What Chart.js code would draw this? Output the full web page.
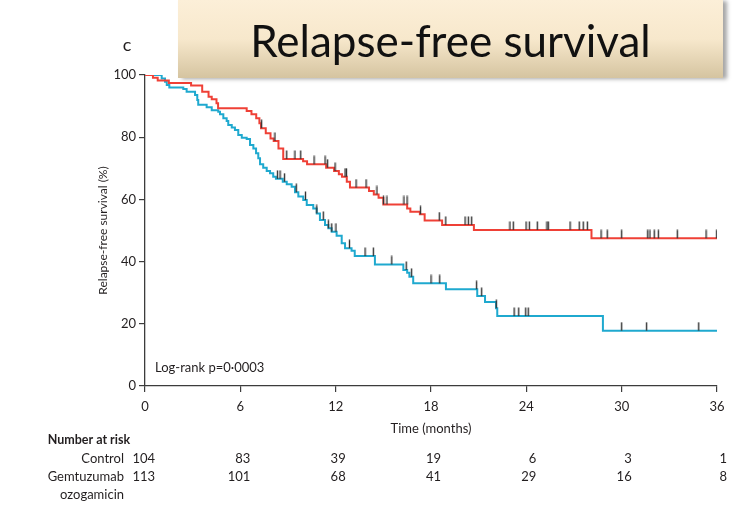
<!DOCTYPE html>
<html>
<head>
<meta charset="utf-8">
<script src="https://cdn.jsdelivr.net/npm/chart.js@4.4.0/dist/chart.umd.min.js"></script>
<style>
  html, body { margin: 0; padding: 0; background: #fff; }
  #wrap { position: relative; width: 742px; height: 508px; overflow: hidden; }
  #chart { position: absolute; left: 0; top: 0; }
  .banner {
    position: absolute; left: 178px; top: 0; width: 545px; height: 78px;
    background: linear-gradient(to bottom, #fcefd8 0%, #f7e8cc 50%, #d5c4a0 100%);
    box-shadow: 4px 1px 4px rgba(0, 0, 0, 0.35);
    font-family: Lato, sans-serif; font-size: 44px; color: #111;
    text-align: center; line-height: 80px;
  }
</style>
</head>
<body>
<div id="wrap">
  <canvas id="chart" width="742" height="508"></canvas>
  <div class="banner">Relapse-free survival</div>
</div>
<script>
// --- Data ---
const monthTicks = [0, 6, 12, 18, 24, 30, 36];

// Kaplan-Meier steps: time of each drop (months) and survival (%) after it
const gemtuzumabTimes = [0, 0.5, 0.8, 1.5, 2.9, 3.6, 4.0, 4.2, 4.5, 4.6, 6.4, 6.7, 7.0, 7.2, 7.3, 7.6, 7.9, 8.1, 8.4, 8.7,
  9.95, 10.2, 11.4, 11.9, 12.2, 12.4, 12.7, 12.9, 14.1, 14.4, 14.7, 15.0, 16.5, 16.7, 17.3, 17.6, 18.7, 20.7, 28.1, 36];
const gemtuzumabSurvival = [100, 99.1, 98.2, 97.4, 96.6, 94.6, 93.0, 92.2, 90.9, 89.3, 88.4, 87.4, 86.1, 84.5, 82.9, 81.3, 79.6, 78.8, 76.4, 73.0,
  72.3, 71.3, 70.2, 69.1, 68.1, 67.3, 65.7, 63.8, 62.7, 61.6, 60.5, 58.4, 57.1, 56.0, 55.2, 53.2, 51.8, 50.2, 47.5, 47.5];

const controlTimes = [0, 1.05, 1.26, 1.37, 1.53, 2.41, 2.62, 3.15, 3.29, 3.35, 3.88, 4.2, 4.61, 4.72, 4.93, 5.14, 5.24, 5.46, 5.66, 5.87,
  6.09, 6.4, 6.61, 6.82, 6.99, 7.13, 7.24, 7.44, 7.66, 7.87, 8.07, 8.24, 8.67, 8.92, 9.23, 9.44, 9.65, 9.96, 10.18, 10.59,
  10.81, 11.01, 11.33, 11.54, 11.75, 12.06, 12.38, 12.59, 13.0, 13.2, 14.47, 16.26, 16.5, 16.64, 16.88, 18.94, 20.91, 21.4, 22.09, 22.17,
  28.82, 36];
const controlSurvival = [100, 98.9, 97.8, 96.8, 96.0, 95.5, 94.6, 93.6, 92.0, 90.4, 89.6, 88.7, 88.2, 87.4, 86.1, 85.2, 83.9, 83.1, 82.3, 80.7,
  79.8, 79.4, 77.5, 76.4, 74.8, 73.2, 71.3, 70.2, 69.1, 68.4, 67.3, 66.6, 65.7, 64.9, 64.1, 62.3, 60.9, 59.8, 58.2, 57.1,
  55.5, 53.4, 51.8, 50.7, 49.6, 48.3, 45.9, 44.3, 43.5, 41.8, 39.1, 37.3, 36.4, 35.1, 33.0, 31.1, 28.9, 27.0, 25.0, 22.5,
  17.8, 17.8];

// Censoring times (months)
const gemtuzumabCensored = [7.34, 8.18, 8.92, 9.44, 9.8, 10.64, 11.33, 11.49, 11.96, 12.59, 12.68, 13.28, 13.91, 14.6, 15.01, 15.23,
  16.3, 16.49, 17.34, 18.52, 18.93, 20.14, 20.35, 20.56, 22.97, 23.18, 23.98, 24.19, 24.69, 25.3, 25.38, 26.75, 27.33, 27.58,
  27.84, 28.7, 29.09, 30.0, 31.64, 31.78, 32.05, 32.31, 33.5, 35.31, 35.98];
const controlCensored = [8.34, 8.5, 8.78, 9.52, 10.1, 10.81, 11.22, 11.54, 11.75, 12.02, 12.87, 13.85, 14.37, 15.53, 16.44, 16.78,
  18.0, 18.55, 20.87, 21.19, 22.11, 23.23, 23.52, 23.96, 24.12, 30.0, 31.57, 34.85];

// Number at risk at each x tick
const riskControl = [104, 83, 39, 19, 6, 3, 1];
const riskGemtuzumab = [113, 101, 68, 41, 29, 16, 8];

// --- Styles ---
const RED = '#ef4036';
const BLUE = '#1fa9cf';
const INK = '#231f20';
const AXIS = '#3c3c3c';
const FONT = 'Lato, sans-serif';

// --- Helpers ---
function toPoints(times, values) {
  return times.map((t, i) => ({ x: t, y: values[i] }));
}

// Survival level in effect at time t
function levelAt(times, values, t) {
  let v = values[0];
  for (let i = 0; i < times.length; i++) {
    if (times[i] <= t) v = values[i];
  }
  return v;
}

function censorPoints(censored, times, values) {
  return censored.map(t => ({ x: t, y: levelAt(times, values, t) }));
}

// Small vertical tick that sits on top of the curve
function makeCensorMark() {
  const c = document.createElement('canvas');
  c.width = 3;
  c.height = 18;
  const g = c.getContext('2d');
  g.strokeStyle = '#333';
  g.lineWidth = 1.4;
  g.beginPath();
  g.moveTo(1.5, 0.5);
  g.lineTo(1.5, 9);
  g.stroke();
  return c;
}
const censorMark = makeCensorMark();

// --- Annotations: panel letter, log-rank p, number at risk ---
const annotations = {
  id: 'annotations',
  afterDraw(chart) {
    const ctx = chart.ctx;
    const x = chart.scales.x;
    const labelRight = 124;
    ctx.save();
    ctx.fillStyle = INK;
    ctx.textBaseline = 'middle';

    ctx.font = '18px ' + FONT;
    ctx.textAlign = 'center';
    ctx.fillText('c', 127, 45);

    ctx.font = '13px ' + FONT;
    ctx.textAlign = 'left';
    ctx.fillText('Log-rank p=0\u00b70003', 155, 368);

    // header starts where the longest row label starts
    const labelLeft = labelRight - ctx.measureText('Gemtuzumab').width;
    ctx.font = 'bold 12.5px ' + FONT;
    ctx.fillText('Number at risk', labelLeft, 440);

    ctx.font = '13px ' + FONT;
    ctx.textAlign = 'right';
    ctx.fillText('Control', labelRight, 459);
    ctx.fillText('Gemtuzumab', labelRight, 477);
    ctx.fillText('ozogamicin', labelRight, 495);

    monthTicks.forEach((m, i) => {
      const px = x.getPixelForValue(m) + 10;
      ctx.fillText(String(riskControl[i]), px, 459);
      ctx.fillText(String(riskGemtuzumab[i]), px, 477);
    });
    ctx.restore();
  }
};

// --- Chart ---
new Chart(document.getElementById('chart'), {
  type: 'line',
  data: {
    datasets: [
      {
        type: 'scatter',
        data: censorPoints(gemtuzumabCensored, gemtuzumabTimes, gemtuzumabSurvival),
        pointStyle: censorMark,
        order: 0
      },
      {
        type: 'scatter',
        data: censorPoints(controlCensored, controlTimes, controlSurvival),
        pointStyle: censorMark,
        order: 0
      },
      {
        label: 'Gemtuzumab ozogamicin',
        data: toPoints(gemtuzumabTimes, gemtuzumabSurvival),
        borderColor: RED,
        borderWidth: 2,
        stepped: 'before',
        pointRadius: 0,
        fill: false,
        order: 1
      },
      {
        label: 'Control',
        data: toPoints(controlTimes, controlSurvival),
        borderColor: BLUE,
        borderWidth: 2,
        stepped: 'before',
        pointRadius: 0,
        fill: false,
        order: 2
      }
    ]
  },
  options: {
    responsive: false,
    animation: false,
    devicePixelRatio: 1,
    layout: { padding: { top: 75, right: 25, left: 0, bottom: 0 } },
    plugins: { legend: { display: false }, tooltip: { enabled: false } },
    scales: {
      x: {
        type: 'linear',
        min: 0,
        max: 36,
        afterFit: s => { s.height = 122; },
        grid: { drawOnChartArea: false, drawTicks: true, tickLength: 6, color: AXIS, lineWidth: 1.2 },
        border: { color: AXIS, width: 1.3 },
        ticks: { stepSize: 6, color: INK, font: { family: FONT, size: 13 }, padding: 7, maxRotation: 0 },
        title: { display: true, text: 'Time (months)', color: INK, font: { family: FONT, size: 13 }, padding: { bottom: 71 } }
      },
      y: {
        min: 0,
        max: 100,
        afterFit: s => { s.width = 145; },
        grid: { drawOnChartArea: false, drawTicks: true, tickLength: 6, color: AXIS, lineWidth: 1.2 },
        border: { color: AXIS, width: 1.3 },
        ticks: { stepSize: 20, color: INK, font: { family: FONT, size: 13 }, padding: 3 },
        title: { display: true, text: 'Relapse-free survival (%)', color: INK, font: { family: FONT, size: 12 }, padding: { top: 96 } }
      }
    }
  },
  plugins: [annotations]
});
</script>
</body>
</html>
